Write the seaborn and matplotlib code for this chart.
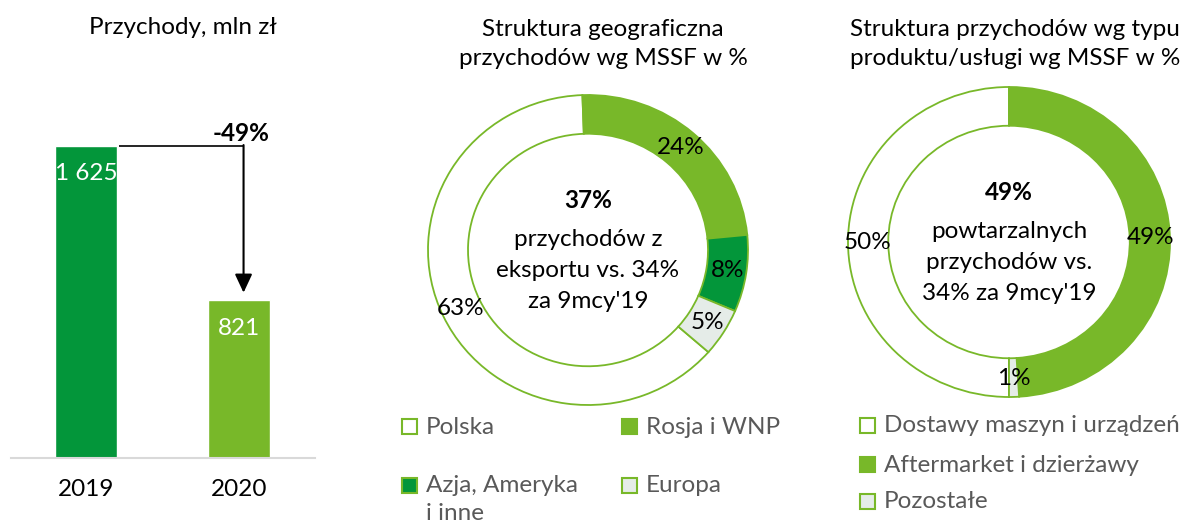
import numpy as np
import pandas as pd
import matplotlib
matplotlib.use("Agg")
import matplotlib.pyplot as plt
import seaborn as sns
from matplotlib.patches import Rectangle

# ---------------- data ----------------
years = ["2019", "2020"]
revenue = [1625, 821]
revenue_labels = ["1 625", "821"]
bar_colors = ["#03963A", "#78B829"]

geo_labels = ["Polska", "Rosja i WNP", "Azja, Ameryka\ni inne", "Europa"]
geo_values = [63, 24, 8, 5]
geo_colors = ["#FFFFFF", "#78B829", "#03963A", "#E5ECE8"]

type_labels = ["Dostawy maszyn i urządzeń", "Aftermarket i dzierżawy", "Pozostałe"]
type_values = [50, 49, 1]
type_colors = ["#FFFFFF", "#78B829", "#E5ECE8"]

title_bar = "Przychody, mln zł"
title_geo = "Struktura geograficzna\nprzychodów wg MSSF w %"
title_type = "Struktura przychodów wg typu\nproduktu/usługi wg MSSF w %"
center_geo = ["37%", "przychodów z", "eksportu vs. 34%", "za 9mcy'19"]
center_type = ["49%", "powtarzalnych", "przychodów vs.", "34% za 9mcy'19"]

EDGE = "#78B829"
TXT = "#000000"
LEG_TXT = "#595959"

sns.set_theme(style="white")
plt.rcParams["font.family"] = ["Lato", "DejaVu Sans"]

W, H = 1193, 526
fig = plt.figure(figsize=(W / 100, H / 100), dpi=100)


def box(left, top, right, bottom):
    return [left / W, 1 - bottom / H, (right - left) / W, (bottom - top) / H]


FS = 17.5

# ---------------- bar chart ----------------
ax = fig.add_axes(box(11, 100, 315, 458))
df = pd.DataFrame({"year": years, "value": revenue})
sns.barplot(data=df, x="year", y="value", hue="year", palette=bar_colors,
            width=0.41, saturation=1, legend=False, ax=ax)
ax.set_xlim(-0.49, 1.497)
ax.set_ylim(0, 358 * revenue[0] / 312)
for s in ["top", "right", "left"]:
    ax.spines[s].set_visible(False)
ax.spines["bottom"].set_color("#D9D9D9")
ax.spines["bottom"].set_linewidth(1.5)
ax.set_yticks([])
ax.set_xlabel("")
ax.set_ylabel("")
ax.tick_params(axis="x", length=0, pad=15, labelsize=FS, labelcolor=TXT)
for i, (v, lab) in enumerate(zip(revenue, revenue_labels)):
    ax.annotate(lab, (i, v), xytext=(0, -20), textcoords="offset points",
                ha="center", va="center", color="white", fontsize=FS)
# change arrow
x0 = 0 + 0.41 / 2 + 0.01
x1 = 1 + 0.03
ax.plot([x0, x1], [revenue[0], revenue[0]], color="black", lw=1.2,
        solid_capstyle="butt")
ax.annotate("", xy=(x1, revenue[1] + 40), xytext=(x1, revenue[0] + 5),
            arrowprops=dict(arrowstyle="-|>,head_length=0.75,head_width=0.35",
                            color="black", lw=1.5, shrinkA=0, shrinkB=0,
                            mutation_scale=15))
change = round((revenue[1] - revenue[0]) / revenue[0] * 100)
ax.annotate(f"{change}%", (x1, revenue[0]), xytext=(-2, 1),
            textcoords="offset points", ha="center", va="bottom",
            fontsize=FS, fontweight="bold", color=TXT)
fig.text(183 / W, 1 - 27 / H, title_bar, ha="center", va="center",
         fontsize=FS, color=TXT)


# ---------------- donuts ----------------
def donut(cx, cy, rx, ry, values, colors, startangle, center_lines, title,
          title_cx):
    axd = fig.add_axes(box(cx - 180, cy - 170, cx + 180, cy + 170))
    wedges, _ = axd.pie(values, colors=colors, startangle=startangle,
                        counterclock=False, radius=1.0,
                        wedgeprops=dict(width=0.25, edgecolor=EDGE,
                                        linewidth=1.3))
    axd.set_aspect("auto")
    axd.set_xlim(-180 / rx, 180 / rx)
    axd.set_ylim(-170 / ry, 170 / ry)
    axd.axis("off")
    for w, v in zip(wedges, values):
        ang = np.deg2rad((w.theta1 + w.theta2) / 2)
        r = 0.88
        axd.text(r * np.cos(ang), r * np.sin(ang), f"{v}%", ha="center",
                 va="center", fontsize=FS, color=TXT)
    ys = [0.32, 0.07, -0.13, -0.33]
    for k, (line, y) in enumerate(zip(center_lines, ys)):
        axd.text(0, y, line, ha="center", va="center", fontsize=FS,
                 color=TXT, fontweight="bold" if k == 0 else "normal")
    fig.text(title_cx / W, 1 - 44 / H, title, ha="center", va="center",
             fontsize=FS, color=TXT, linespacing=1.48)
    return axd


donut(588, 250, 160, 155, geo_values, geo_colors,
      92 + geo_values[0] / 100 * 360, center_geo, title_geo, 603)
donut(1009, 242, 161, 155, type_values, type_colors,
      90 + type_values[0] / 100 * 360, center_type, title_type, 1015)


# ---------------- legends ----------------
def square(x, y, color):
    fig.patches.append(Rectangle((x / W, 1 - (y + 15) / H), 15 / W, 15 / H,
                                 transform=fig.transFigure, facecolor=color,
                                 edgecolor=EDGE, linewidth=1.5))


def legend_item(x, y, color, label):
    square(x, y, color)
    if "\n" in label:
        fig.text((x + 24) / W, 1 - (y - 3) / H, label, ha="left", va="top",
                 fontsize=FS, color=LEG_TXT, linespacing=1.4)
    else:
        fig.text((x + 24) / W, 1 - (y + 8) / H, label, ha="left",
                 va="center", fontsize=FS, color=LEG_TXT)


geo_pos = [(402, 419), (622, 419), (402, 478), (622, 478)]
for (x, y), c, lab in zip(geo_pos, geo_colors, geo_labels):
    legend_item(x, y, c, lab)

type_pos = [(860, 418), (860, 457), (860, 494)]
for (x, y), c, lab in zip(type_pos, type_colors, type_labels):
    legend_item(x, y, c, lab)

fig.savefig("out.png", dpi=100, facecolor="white")
